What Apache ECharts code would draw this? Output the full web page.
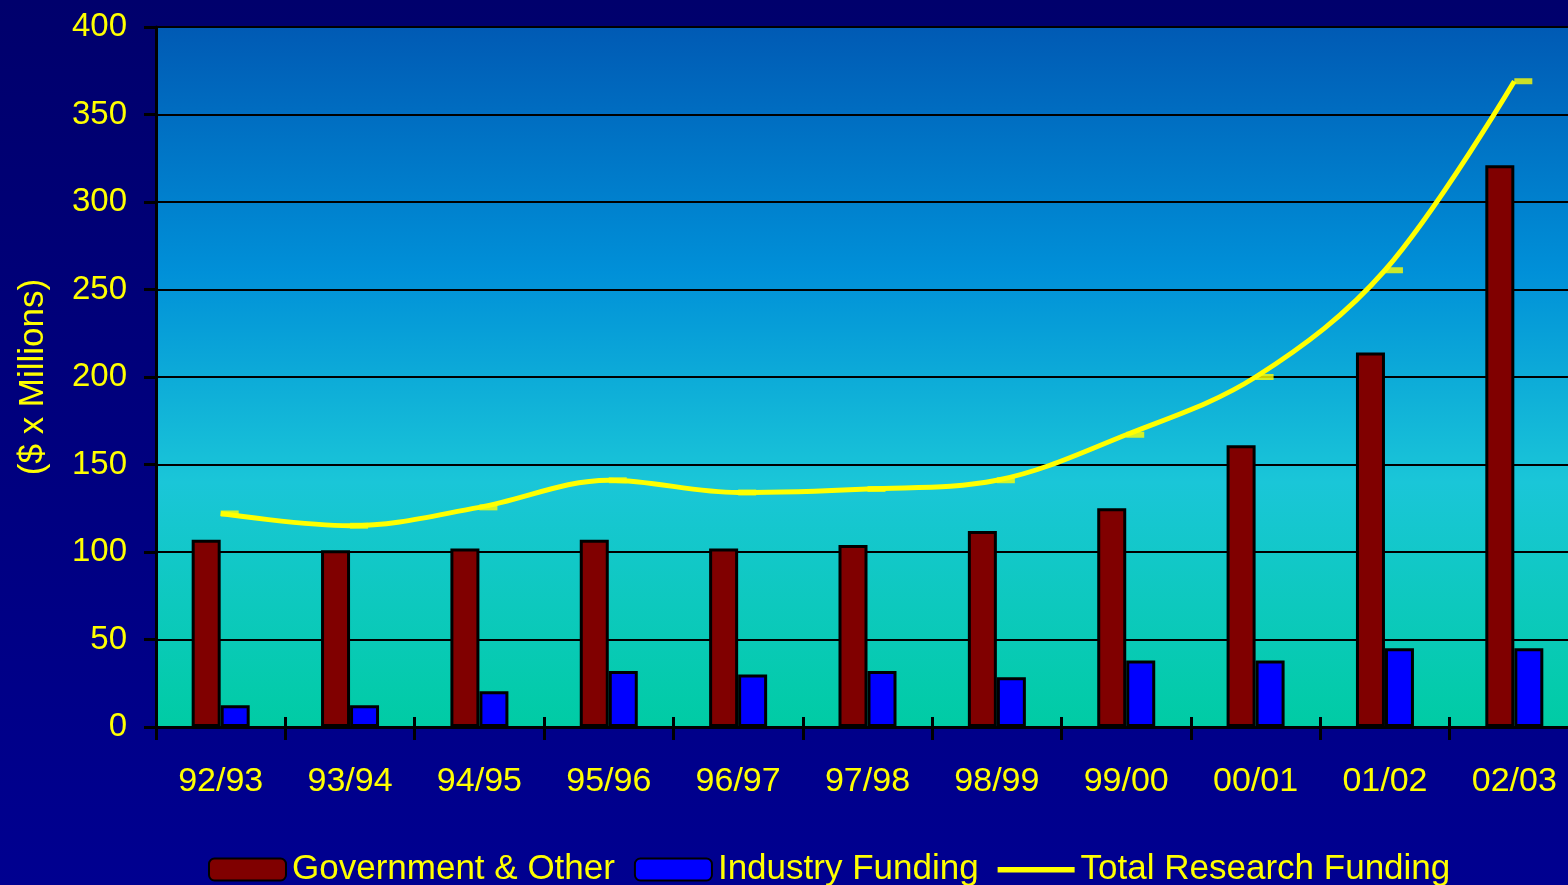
<!DOCTYPE html>
<html>
<head>
<meta charset="utf-8">
<script src="https://cdn.jsdelivr.net/npm/echarts@6/dist/echarts.min.js"></script>
<style>html,body{margin:0;padding:0;background:#000078;}#c{width:1568px;height:885px;}</style>
</head>
<body>
<div id="c"></div>
<script>
const categories = ['92/93','93/94','94/95','95/96','96/97','97/98','98/99','99/00','00/01','01/02','02/03'];
const government = [107, 101, 102, 107, 102, 104, 112, 125, 161, 214, 321];
const industry = [12.5, 12.5, 20.5, 32, 30, 32, 28.5, 38, 38, 45, 45];
const total = [122, 115, 125.5, 141, 134, 136, 141, 167, 200, 261, 369];
const yTicks = {min: 0, max: 400, interval: 50};

const chart = echarts.init(document.getElementById('c'), null, {renderer: 'canvas'});
const font = 'Liberation Sans, Arial, sans-serif';
const yellow = '#ffff00';
chart.setOption({
  animation: false,
  backgroundColor: {type: 'linear', x: 0, y: 0, x2: 0, y2: 1, colorStops: [
    {offset: 0, color: '#00006c'}, {offset: 1, color: '#000090'}]},
  grid: {left: 156, right: -11, top: 27, bottom: 158, show: true, borderWidth: 0,
    outerBoundsMode: 'none', containLabel: false,
    backgroundColor: {type: 'linear', x: 0, y: 0, x2: 0, y2: 1, colorStops: [
      {offset: 0, color: '#005ab4'}, {offset: 0.35, color: '#0090d8'},
      {offset: 0.65, color: '#1ac6d8'}, {offset: 1, color: '#00cca4'}]}},
  legend: {
    left: 203, top: 847, itemWidth: 77, itemHeight: 22, itemGap: 19,
    textStyle: {color: yellow, fontSize: 35, fontFamily: font, padding: [0, 0, 0, 1]},
    data: [
      {name: 'Government & Other'},
      {name: 'Industry Funding'},
      {name: 'Total Research Funding',
        icon: 'path://M0,0L0,0M0,8.5L77,8.5L77,14L0,14ZM77,22L77,22',
        itemStyle: {color: yellow, borderWidth: 0}}
    ]
  },
  xAxis: [{
    type: 'category', data: categories, boundaryGap: true,
    axisLine: {lineStyle: {color: '#000', width: 3}},
    axisTick: {show: true, length: 13, lineStyle: {color: '#000', width: 3}},
    axisLabel: {color: yellow, fontSize: 34, fontFamily: font, margin: 38},
    splitLine: {show: false}
  }, {
    type: 'category', data: categories, boundaryGap: true, position: 'bottom',
    axisLine: {show: false},
    axisTick: {show: true, inside: true, length: 10, lineStyle: {color: '#000', width: 3}},
    axisLabel: {show: false}, splitLine: {show: false}
  }],
  yAxis: {
    type: 'value', min: yTicks.min, max: yTicks.max, interval: yTicks.interval,
    name: '($ x Millions)', nameLocation: 'middle', nameGap: 105,
    nameTextStyle: {color: yellow, fontSize: 35, fontFamily: font},
    axisLine: {show: true, lineStyle: {color: '#000', width: 3}},
    axisTick: {show: true, length: 12, lineStyle: {color: '#000', width: 3}},
    axisLabel: {color: yellow, fontSize: 33, fontFamily: font, margin: 29},
    splitLine: {lineStyle: {color: '#000', width: 2}}
  },
  series: [
    {name: 'Government & Other', type: 'bar', data: government, barWidth: 29, barGap: '0%',
      itemStyle: {color: '#800000', borderColor: '#000', borderWidth: 3}},
    {name: 'Industry Funding', type: 'bar', data: industry, barWidth: 29,
      itemStyle: {color: '#0000ff', borderColor: '#000', borderWidth: 3}},
    {name: 'Total Research Funding', type: 'line', data: total, smooth: 0.35,
      symbol: 'none', itemStyle: {color: yellow},
      lineStyle: {color: yellow, width: 5}, z: 5},
    {name: 'markers', type: 'scatter', data: total, symbol: 'rect',
      symbolSize: [18, 6], symbolOffset: [9, 0], itemStyle: {color: yellow}, z: 5}
  ]
});
</script>
</body>
</html>
